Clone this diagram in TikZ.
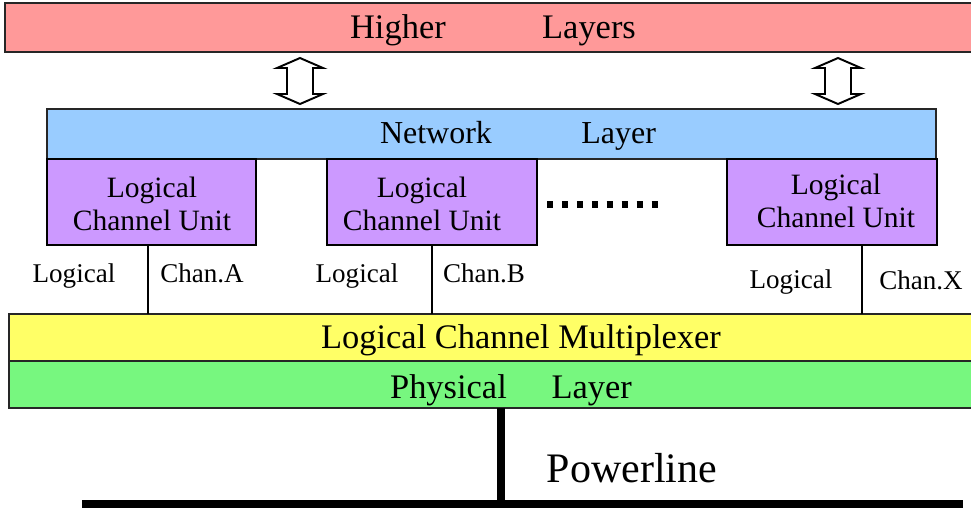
\documentclass[tikz,border=0pt]{standalone}
\usepackage{fontspec}
\setmainfont{Liberation Serif}
\begin{document}
\begin{tikzpicture}[x=0.02cm,y=-0.02cm]
	\definecolor{higherfill}{HTML}{FF9999}
	\definecolor{networkfill}{HTML}{99CCFF}
	\definecolor{unitfill}{HTML}{CC99FF}
	\definecolor{muxfill}{HTML}{FFFF66}
	\definecolor{phyfill}{HTML}{77F77F}
	\newcommand{\boxcolor}{black!85}
	\newcommand{\bigtext}{\fontsize{19.6pt}{23pt}\selectfont}
	\newcommand{\unittext}{\fontsize{16.8pt}{18.8pt}\selectfont}
	\newcommand{\chantext}{\fontsize{15.4pt}{18pt}\selectfont}

		\def\canvas{(0,0) rectangle (971,508)}
		\def\higher{(5,3) rectangle (985,52)}
		\def\network{(47,109) rectangle (936,159)}
		\def\unitA{(47,159) rectangle (256,245)}
		\def\unitB{(327,159) rectangle (537,245)}
		\def\unitX{(727,159) rectangle (937,245)}
		\def\mux{(9,314) rectangle (985,361)}
		\def\phy{(9,361) rectangle (985,408)}

		\useasboundingbox \canvas;

		\begin{scope}[line width=1.2pt]
			\fill[higherfill] \higher;
			\fill[networkfill] \network;
			\fill[unitfill] \unitA;
			\fill[unitfill] \unitB;
			\fill[unitfill] \unitX;
			\fill[muxfill] \mux;
			\fill[phyfill] \phy;
			\draw[\boxcolor] \higher;
			\draw[\boxcolor] \network;
			\draw \unitA;
			\draw \unitB;
			\draw \unitX;
			\draw[\boxcolor] \mux;
			\draw[\boxcolor] \phy;
		\end{scope}

		% up/down arrows between the upper layers
		\foreach \ax in {300,838}
			\draw[line width=1.1pt,fill=white] (\ax,58) -- (\ax+23,68) -- (\ax+13,68) -- (\ax+13,94) -- (\ax+23,94)
				-- (\ax,104) -- (\ax-23,94) -- (\ax-13,94) -- (\ax-13,68) -- (\ax-23,68) -- cycle;

		\node[anchor=base] (higherlbl) at (493,38) {\bigtext Higher\hspace*{2.8em}Layers};
		\node[anchor=base] (netlbl) at (518,143) {\fontsize{18.2pt}{21pt}\selectfont Network\hspace*{2.8em}Layer};
		\node[align=center,font=\unittext] (lcuA) at (152,204) {Logical\\Channel Unit};
		\node[align=center,font=\unittext] (lcuB) at (422,204) {Logical\\Channel Unit};
		\node[align=center,font=\unittext] (lcuX) at (836,201) {Logical\\Channel Unit};
		\node[anchor=base] (muxlbl) at (521,348) {\bigtext Logical Channel Multiplexer};
		\node[anchor=base] (phylbl) at (511,398) {\bigtext Physical\hspace*{1.3em}Layer};
		\node[anchor=base] (powerlbl) at (632,482) {\fontsize{23.9pt}{28pt}\selectfont Powerline};

		% logical channels
		\foreach \cx/\cn in {148/A,432/B,862/X} {
			\coordinate (up\cn) at (\cx,245);
			\coordinate (down\cn) at (\cx,314);
			\draw[line width=1.1pt] (up\cn) -- (down\cn);
		}
		\node[anchor=base] (logA) at (74,282) {\chantext Logical};
		\node[anchor=base] (chanA) at (202,282) {\chantext Chan.A};
		\node[anchor=base] (logB) at (357,282) {\chantext Logical};
		\node[anchor=base] (chanB) at (484,282) {\chantext Chan.B};
		\node[anchor=base] (logX) at (791,288) {\chantext Logical};
		\node[anchor=base] (chanX) at (921,289) {\chantext Chan.X};

		% more units
		\coordinate (dotsL) at (547,204.5);
		\coordinate (dotsR) at (659,204.5);
		\draw[line width=3.6pt,dash pattern=on 3.6pt off 4.9pt] (dotsL) -- (dotsR);

		% powerline
		\coordinate (phybot) at (501,408);
		\coordinate (tap) at (501,504);
		\coordinate (lineL) at (82,504);
		\coordinate (lineR) at (963,504);
		\draw[line width=4.5pt] (phybot) -- (tap);
		\draw[line width=4.6pt] (lineL) -- (lineR);
	\end{tikzpicture}
\end{document}
